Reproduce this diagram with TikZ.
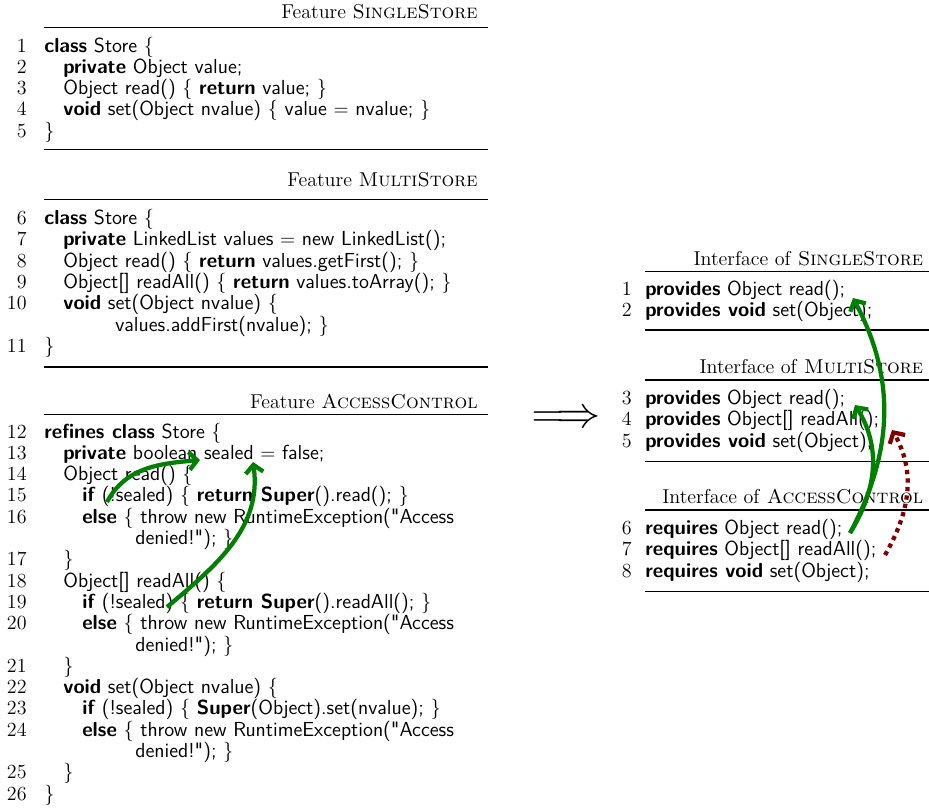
\documentclass[tikz,border=0pt]{standalone}
\usetikzlibrary{arrows.meta}
\definecolor{flowgreen}{RGB}{0,128,0}
\definecolor{flowred}{RGB}{128,0,0}
\newcommand{\kw}[1]{\textbf{#1}}
% straight double quote, set as a glyph so no ligature mapping turns it curly
\newcommand{\dq}{\XeTeXglyph\XeTeXcharglyph"22\relax}
\newcommand{\codefont}{\fontsize{11.45}{13.7}\selectfont\sffamily}
\newcommand{\numfont}{\fontsize{11.3}{13.5}\selectfont\rmfamily}
% numbered code line: number, baseline, indent x, text
\newcommand{\codeline}[4]{%
  \node[lnum] (n#1) at (27,-#2) {#1};
  \node[code] (c#1) at (#3,-#2) {#4};}
% numbered interface line
\newcommand{\ifline}[3]{%
  \node[lnum] (rn#1) at (632,-#2) {#1};
  \node[code] (r#1) at (645,-#2) {#3};}
\tikzset{
  code/.style={anchor=base west, inner sep=0pt, font=\codefont},
  lnum/.style={anchor=base east, inner sep=0pt, font=\numfont},
  heading/.style={anchor=base east, inner sep=0pt, font=\numfont},
  rulebar/.style={line width=0.6pt},
  dep/.style={flowgreen, line width=2.4pt, -{Straight Barb[length=4.5pt,width=10pt]}},
  missing/.style={flowred, line width=2.4pt, dash pattern=on 2.4pt off 2.4pt,
    -{Straight Barb[length=4.5pt,width=10pt]}}
}
\begin{document}
\begin{tikzpicture}[x=0.5634pt,y=0.5634pt]
\useasboundingbox (0,0) rectangle (929,-809);

% ---- Feature SingleStore
\node[heading] (t1) at (478,-18) {Feature \textsc{SingleStore}};
\draw[rulebar] (44,-27.5) -- (488,-27.5);
\codeline{1}{52}{44}{\kw{class} Store \{}
\codeline{2}{73.3}{63}{\kw{private} Object value;}
\codeline{3}{94.6}{63}{Object read() \{ \kw{return} value; \}}
\codeline{4}{115.9}{63}{\kw{void} set(Object nvalue) \{ value $=$ nvalue; \}}
\codeline{5}{137.2}{44}{\}}
\draw[rulebar] (44,-149.5) -- (488,-149.5);

% ---- Feature MultiStore
\node[heading] (t2) at (478,-186.5) {Feature \textsc{MultiStore}};
\draw[rulebar] (44,-199.3) -- (488,-199.3);
\codeline{6}{224.5}{44}{\kw{class} Store \{}
\codeline{7}{245.8}{63}{\kw{private} LinkedList values $=$ new LinkedList();}
\codeline{8}{267.1}{63}{Object read() \{ \kw{return} values.getFirst(); \}}
\codeline{9}{288.4}{63}{Object[] readAll() \{ \kw{return} values.toArray(); \}}
\codeline{10}{309.7}{63}{\kw{void} set(Object nvalue) \{}
\node[code] (c10b) at (115,-331) {values.addFirst(nvalue); \}};
\codeline{11}{352.3}{44}{\}}
\draw[rulebar] (44,-367) -- (488,-367);

% ---- Feature AccessControl
\node[heading] (t3) at (478,-408) {Feature \textsc{AccessControl}};
\draw[rulebar] (44,-414.3) -- (488,-414.3);
\codeline{12}{438}{44}{\kw{refines class} Store \{}
\codeline{13}{459.3}{63}{\kw{private} boolean sealed $=$ false;}
\codeline{14}{480.6}{63}{Object read() \{}
\codeline{15}{501.9}{82}{\kw{if} (!sealed) \{ \kw{return Super}().read(); \}}
\codeline{16}{523.2}{82}{\kw{else} \{ throw new RuntimeException(\dq Access}
\node[code] (c16b) at (135,-544.5) {denied!\dq); \}};
\codeline{17}{565.8}{63}{\}}
\codeline{18}{587.1}{63}{Object[] readAll() \{}
\codeline{19}{608.4}{82}{\kw{if} (!sealed) \{ \kw{return Super}().readAll(); \}}
\codeline{20}{629.7}{82}{\kw{else} \{ throw new RuntimeException(\dq Access}
\node[code] (c20b) at (135,-651) {denied!\dq); \}};
\codeline{21}{672.3}{63}{\}}
\codeline{22}{693.6}{63}{\kw{void} set(Object nvalue) \{}
\codeline{23}{714.9}{82}{\kw{if} (!sealed) \{ \kw{Super}(Object).set(nvalue); \}}
\codeline{24}{736.2}{82}{\kw{else} \{ throw new RuntimeException(\dq Access}
\node[code] (c24b) at (135,-757.5) {denied!\dq); \}};
\codeline{25}{778.8}{63}{\}}
\codeline{26}{800.1}{44}{\}}

% ---- composition arrow
\node[inner sep=0pt, font=\fontsize{24.5}{28}\selectfont] (impl) at (566,-419) {$\Longrightarrow$};

% ---- Interfaces
\node[heading] (t4) at (923.5,-265) {Interface of \textsc{SingleStore}};
\draw[rulebar] (645,-271.7) -- (929,-271.7);
\ifline{1}{295}{\kw{provides} Object read();}
\ifline{2}{316.5}{\kw{provides void} set(Object);}
\draw[rulebar] (645,-330) -- (929,-330);

\node[heading] (t5) at (923.5,-373.3) {Interface of \textsc{MultiStore}};
\draw[rulebar] (645,-380) -- (929,-380);
\ifline{3}{404}{\kw{provides} Object read();}
\ifline{4}{425.5}{\kw{provides} Object[] readAll();}
\ifline{5}{447}{\kw{provides void} set(Object);}
\draw[rulebar] (645,-461.7) -- (929,-461.7);

\node[heading] (t6) at (923.5,-503) {Interface of \textsc{AccessControl}};
\draw[rulebar] (645,-510) -- (929,-510);
\ifline{6}{534}{\kw{requires} Object read();}
\ifline{7}{555.5}{\kw{requires} Object[] readAll();}
\ifline{8}{577}{\kw{requires void} set(Object);}
\draw[rulebar] (645,-591.7) -- (929,-591.7);

% ---- reference arrows
\coordinate (use15) at (107,-502);
\coordinate (use19) at (167,-607);
\coordinate (decl13a) at (200,-460);
\coordinate (decl13b) at (253,-462);
\coordinate (req6) at (850,-533);
\coordinate (req7) at (885,-555);
\coordinate (prov1) at (853,-298);
\coordinate (prov3) at (855,-405);
\coordinate (prov4) at (892,-430);

\draw[dep] (use15) to[out=62, in=185] (decl13a);
\draw[dep] (use19) to[out=40, in=-82] (decl13b);
\draw[dep] (req6) to[out=62, in=-62] (prov1);
\draw[dep] (req6) to[out=58, in=-58] (prov3);
\draw[missing] (req7) to[out=60, in=-60] (prov4);
\end{tikzpicture}
\end{document}
